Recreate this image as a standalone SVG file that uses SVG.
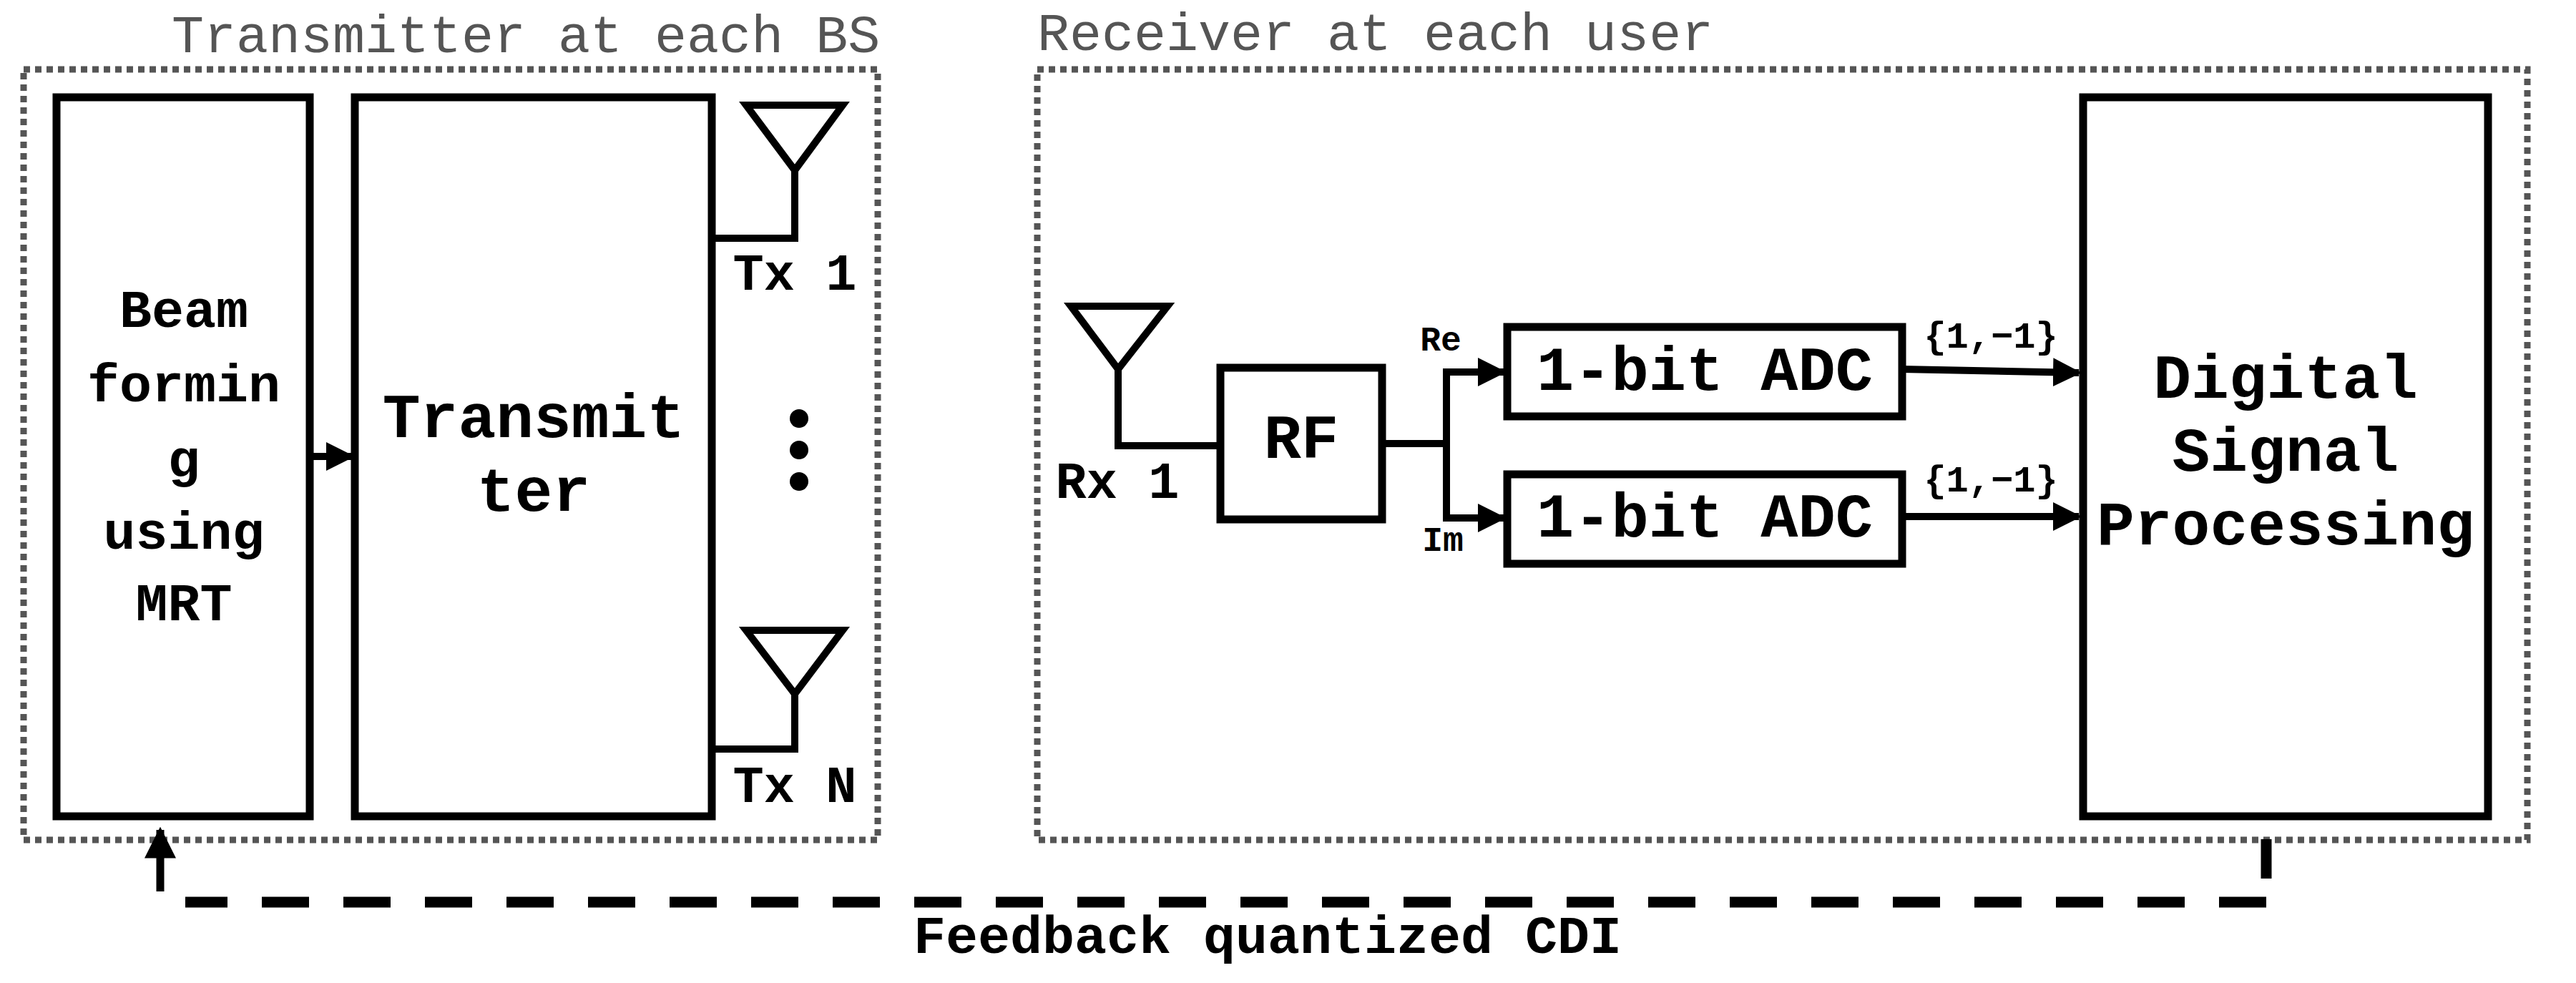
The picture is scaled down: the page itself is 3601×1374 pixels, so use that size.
<svg xmlns="http://www.w3.org/2000/svg" width="3601" height="1374" viewBox="0 0 3601 1374">
<style>
.box{fill:none;stroke:#000;stroke-width:11}
.dot{fill:none;stroke:#555;stroke-width:9;stroke-dasharray:9 7}
.ln{fill:none;stroke:#000;stroke-width:10}
.t{font-family:"Liberation Mono",monospace;font-weight:bold;fill:#000;text-anchor:middle}
.g{font-family:"Liberation Mono",monospace;fill:#555;font-size:75px}
</style>
<defs>
<marker id="ah" viewBox="0 0 10 10" refX="9" refY="5" markerWidth="4" markerHeight="4" orient="auto" markerUnits="strokeWidth"><path d="M0,0L10,5L0,10z" fill="#000"/></marker>
</defs>
<rect width="3601" height="1374" fill="#fff"/>
<g id="tx-group">
<rect class="dot" x="33" y="97" width="1194" height="1077"/>
<text class="g" x="240" y="73">Transmitter at each BS</text>
</g>
<g id="rx-group">
<rect class="dot" x="1450" y="97" width="2083" height="1077"/>
<text class="g" x="1450" y="70">Receiver at each user</text>
</g>
<g id="beamforming">
<rect class="box" x="79" y="136" width="354" height="1005"/>
<text class="t" font-size="75" x="257" y="457">Beam</text>
<text class="t" font-size="75" x="257" y="561">formin</text>
<text class="t" font-size="75" x="257" y="666">g</text>
<text class="t" font-size="75" x="257" y="767">using</text>
<text class="t" font-size="75" x="257" y="867">MRT</text>
</g>
<g id="transmitter">
<rect class="box" x="496" y="136" width="499" height="1005"/>
<text class="t" font-size="88" x="746" y="611">Transmit</text>
<text class="t" font-size="88" x="746" y="714">ter</text>
</g>
<g id="tx1">
<path class="ln" d="M1043,147H1178L1111,238ZM1111,238V333H995"/>
<text class="t" font-size="72" x="1111" y="405">Tx 1</text>
</g>
<g id="dots">
<circle cx="1117" cy="585" r="13"/><circle cx="1117" cy="629" r="13"/><circle cx="1117" cy="673" r="13"/>
</g>
<g id="txN">
<path class="ln" d="M1043,881H1178L1111,970ZM1111,970V1047H995"/>
<text class="t" font-size="72" x="1111" y="1121">Tx N</text>
</g>
<g id="rx1">
<path class="ln" d="M1497,428H1632L1563,516ZM1563,516V623H1701"/>
<text class="t" font-size="72" x="1562" y="696">Rx 1</text>
</g>
<g id="rf">
<rect class="box" x="1706" y="514" width="226" height="212"/>
<text class="t" font-size="87" x="1819" y="640">RF</text>
</g>
<g id="adc1">
<rect class="box" x="2107" y="457" width="552" height="125"/>
<text class="t" font-size="87" x="2383" y="545">1-bit ADC</text>
</g>
<g id="adc2">
<rect class="box" x="2107" y="663" width="552" height="125"/>
<text class="t" font-size="87" x="2383" y="750">1-bit ADC</text>
</g>
<g id="dsp">
<rect class="box" x="2912" y="136" width="566" height="1005"/>
<text class="t" font-size="88" x="3195" y="556">Digital</text>
<text class="t" font-size="88" x="3195" y="658">Signal</text>
<text class="t" font-size="88" x="3195" y="761">Processing</text>
</g>
<g id="connectors">
<path class="ln" d="M433,638H492" marker-end="url(#ah)"/>
<path class="ln" d="M1932,620H2022"/>
<path class="ln" d="M2022,620V520H2102" marker-end="url(#ah)"/>
<path class="ln" d="M2022,620V724H2102" marker-end="url(#ah)"/>
<path class="ln" d="M2659,516L2906,521" marker-end="url(#ah)"/>
<path class="ln" d="M2659,722H2906" marker-end="url(#ah)"/>
<path fill="none" stroke="#000" stroke-width="15" d="M3168,1173V1228"/>
<path fill="none" stroke="#000" stroke-width="15" stroke-dasharray="66 48" d="M3168,1261H259"/>
<path fill="none" stroke="#000" stroke-width="11" d="M224,1246V1160" marker-end="url(#ah)"/>
<text class="t" font-size="48" x="2014" y="490">Re</text>
<text class="t" font-size="48" x="2017" y="770">Im</text>
<text class="t" font-size="52" x="2783" y="486">{1,−1}</text>
<text class="t" font-size="52" x="2783" y="687">{1,−1}</text>
<text class="t" font-size="75" x="1772" y="1332">Feedback quantized CDI</text>
</g>
</svg>
